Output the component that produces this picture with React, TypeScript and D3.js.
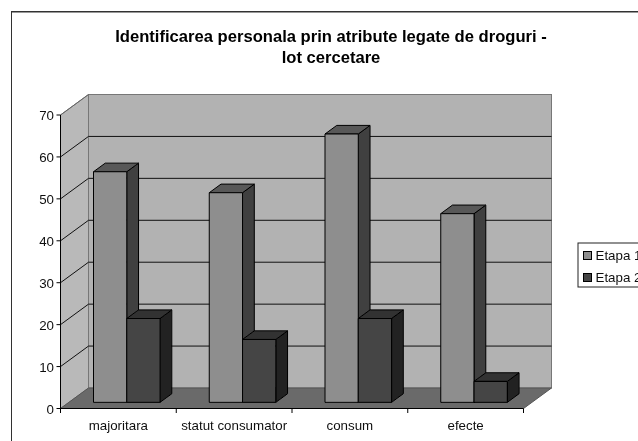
import React from "react";
import * as d3 from "d3";

const categories = ["majoritara", "statut consumator", "consum", "efecte"];
const etapa1 = [55, 50, 64, 45];
const etapa2 = [20, 15, 20, 5];
const yTicks = [0, 10, 20, 30, 40, 50, 60, 70];
const seriesNames = ["Etapa 1", "Etapa 2"];
const titleLines = ["Identificarea personala prin atribute legate de droguri -", "lot cercetare"];

const FONT = "'Liberation Sans', Arial, sans-serif";
const depthX = 28;
const depthY = -20.5;
const x = d3.scaleBand<string>().domain(categories).range([60.5, 523.5]).paddingInner(0).paddingOuter(0);
const y = d3.scaleLinear().domain([0, 70]).range([408.5, 115]);
const pts = (p: number[][]) => p.map((q) => q.join(",")).join(" ");

const barStart = 0.3;
const barEnd = 0.72;
const GAP = 24.6;

function Bar({ cat, value, idx, front, side, top }: { cat: string; value: number; idx: number; front: string; side: string; top: string }) {
  const band = x(cat)!;
  const w = (x.bandwidth() - 2 * GAP) / 2;
  const ox = depthX * barStart;
  const oy = depthY * barStart;
  const dx = depthX * (barEnd - barStart);
  const dy = depthY * (barEnd - barStart);
  const x0 = band + GAP + ox + idx * w;
  const x1 = x0 + w;
  const yb = y(0) + oy;
  const yt = y(value) + oy;
  const s = { stroke: "#000", strokeWidth: 1, strokeLinejoin: "round" as const };
  return (
    <g>
      <polygon points={pts([[x1, yb], [x1 + dx, yb + dy], [x1 + dx, yt + dy], [x1, yt]])} fill={side} {...s} />
      <polygon points={pts([[x0, yt], [x0 + dx, yt + dy], [x1 + dx, yt + dy], [x1, yt]])} fill={top} {...s} />
      <rect x={x0} y={yt} width={w} height={yb - yt} fill={front} {...s} />
    </g>
  );
}

export default function App() {
  const xl = x.range()[0];
  const xr = x.range()[1];
  return (
    <svg width={638} height={441} style={{ position: "absolute", left: 0, top: 0, background: "#fff" }} fontFamily={FONT}>
      <defs>
        <filter id="soft" x="0" y="0" width="100%" height="100%">
          <feGaussianBlur stdDeviation={0.35} />
        </filter>
      </defs>
      <g filter="url(#soft)">
        <rect x={11} y={11.5} width={700} height={500} fill="#fff" stroke="#333" strokeWidth={2} />
        {titleLines.map((t, i) => (
          <text key={t} x={331} y={41.5 + i * 21.5} textAnchor="middle" fontSize={16.6} fontWeight="bold" fill="#000">
            {t}
          </text>
        ))}
        {/* walls */}
        <polygon points={pts([[xl, y(70)], [xl + depthX, y(70) + depthY], [xl + depthX, y(0) + depthY], [xl, y(0)]])} fill="#b9b9b9" stroke="#777" />
        <rect x={xl + depthX} y={y(70) + depthY} width={xr - xl} height={y(0) - y(70)} fill="#b2b2b2" stroke="#777" />
        <polygon points={pts([[xl, y(0)], [xl + depthX, y(0) + depthY], [xr + depthX, y(0) + depthY], [xr, y(0)]])} fill="#6b6b6b" stroke="#555" />
        {yTicks.filter((v) => v > 0 && v < 70).map((v) => (
          <line key={v} x1={xl + depthX} x2={xr + depthX} y1={y(v) + depthY} y2={y(v) + depthY} stroke="#111" />
        ))}
        {yTicks.filter((v) => v > 0).map((v) => (
          <line key={v} x1={xl} x2={xl + depthX} y1={y(v)} y2={y(v) + depthY} stroke={v === 70 ? "#666" : "#111"} />
        ))}
        {/* bars */}
        {categories.map((c, i) => (
          <g key={c}>
            <Bar cat={c} value={etapa1[i]} idx={0} front="#8e8e8e" side="#404040" top="#595959" />
            <Bar cat={c} value={etapa2[i]} idx={1} front="#444444" side="#222222" top="#333333" />
          </g>
        ))}
        {/* axes */}
        <line x1={xl} x2={xl} y1={y(70)} y2={y(0)} stroke="#000" />
        <line x1={xl} x2={xr} y1={y(0)} y2={y(0)} stroke="#000" />
        {yTicks.map((v) => (
          <g key={v}>
            <line x1={xl - 4} x2={xl} y1={y(v)} y2={y(v)} stroke="#000" />
            <text x={54} y={y(v) + 5} textAnchor="end" fontSize={13.33} fill="#111">{v}</text>
          </g>
        ))}
        {[...categories.map((c) => x(c)!), xr].map((t, i) => (
          <line key={i} x1={t} x2={t} y1={y(0)} y2={y(0) + 4.5} stroke="#000" />
        ))}
        {categories.map((c) => (
          <text key={c} x={x(c)! + x.bandwidth() / 2} y={430} textAnchor="middle" fontSize={13.33} fill="#111">{c}</text>
        ))}
        {/* legend */}
        <rect x={578} y={243} width={80} height={44} fill="#fff" stroke="#222" />
        {seriesNames.map((n, i) => (
          <g key={n}>
            <rect x={583.5} y={251.5 + i * 22} width={8} height={8} fill={i === 0 ? "#8e8e8e" : "#444444"} stroke="#000" />
            <text x={595.5} y={260 + i * 22} fontSize={13.33} fill="#111">{n}</text>
          </g>
        ))}
      </g>
    </svg>
  );
}
